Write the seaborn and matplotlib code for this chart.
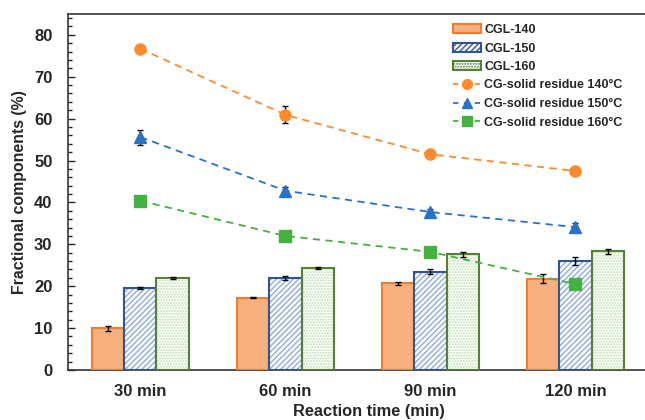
import numpy as np
import pandas as pd
import matplotlib
matplotlib.use("Agg")
import matplotlib.pyplot as plt
from matplotlib.patches import Rectangle, Patch
from matplotlib.lines import Line2D
from matplotlib.ticker import MultipleLocator
import seaborn as sns

times = ["30 min", "60 min", "90 min", "120 min"]
bar_names = ["CGL-140", "CGL-150", "CGL-160"]
cgl140 = [10.0, 17.3, 20.7, 21.8]
cgl150 = [19.5, 22.0, 23.5, 26.0]
cgl160 = [22.0, 24.4, 27.6, 28.3]
cgl140_err = [0.6, 0.2, 0.4, 1.1]
cgl150_err = [0.2, 0.5, 0.7, 0.9]
cgl160_err = [0.3, 0.2, 0.6, 0.6]

line_names = ["CG-solid residue 140°C", "CG-solid residue 150°C", "CG-solid residue 160°C"]
res140 = [76.7, 60.9, 51.5, 47.5]
res150 = [55.6, 42.8, 37.7, 34.1]
res160 = [40.4, 32.0, 28.2, 20.5]
res140_err = [0.3, 2.0, 0.3, 0.3]
res150_err = [1.8, 0.8, 0.8, 1.0]
res160_err = [0.4, 0.4, 0.4, 1.2]

sns.set_style("white")
plt.rcParams["font.family"] = ["Liberation Sans", "DejaVu Sans"]
plt.rcParams["font.weight"] = "bold"
plt.rcParams["hatch.linewidth"] = 1.0

face = ["#F9B07F", "white", "white"]
edge = ["#ED7D31", "#2F5597", "#548235"]
hatch_col = ["#F9B07F", "#8FAADC", "#BFDDAE"]
hatches = [None, "//////", "......"]

df = pd.DataFrame({
    "time": times * 3,
    "sample": np.repeat(bar_names, 4),
    "value": cgl140 + cgl150 + cgl160,
    "err": cgl140_err + cgl150_err + cgl160_err,
})

fig, ax = plt.subplots(figsize=(6.45, 4.2), dpi=100)
fig.subplots_adjust(left=0.105, right=1.0047, bottom=0.119, top=0.967)

sns.barplot(data=df, x="time", y="value", hue="sample", order=times,
            hue_order=bar_names, palette=face, width=0.67, gap=0,
            errorbar=None, legend=False, ax=ax)

errs = [cgl140_err, cgl150_err, cgl160_err]
vals = [cgl140, cgl150, cgl160]
bars = [p for p in ax.patches if isinstance(p, Rectangle)]
for k, p in enumerate(bars[:12]):
    s, i = divmod(k, 4)
    p.set_facecolor(face[s])
    if hatches[s]:
        p.set_hatch(hatches[s])
    p.set_edgecolor(hatch_col[s])
    p.set_linewidth(0)
    ax.add_patch(Rectangle((p.get_x(), 0), p.get_width(), p.get_height(),
                           fill=False, edgecolor=edge[s], linewidth=1.5, zorder=3))
    ax.errorbar(p.get_x() + p.get_width() / 2, vals[s][i], yerr=errs[s][i],
                fmt="none", ecolor="black", elinewidth=1, capsize=2, capthick=1, zorder=4)

line_cols = ["#FF8A2B", "#2A72C9", "#45B140"]
markers = ["o", "^", "s"]
x = np.arange(len(times))
for vals_l, err_l, c, m in zip([res140, res150, res160], [res140_err, res150_err, res160_err],
                               line_cols, markers):
    sns.lineplot(x=x, y=vals_l, color=c, linestyle=(0, (4, 3)), linewidth=1.3, ax=ax, zorder=5)
    ax.errorbar(x, vals_l, yerr=err_l, fmt=m, color=c, markersize=8, ecolor="black",
                elinewidth=1, capsize=2, capthick=1, zorder=6)

ax.set_xlim(-0.5, 3.5)
ax.set_ylim(0, 85)
ax.yaxis.set_major_locator(MultipleLocator(10))
ax.yaxis.set_minor_locator(MultipleLocator(2))
ax.tick_params(axis="y", which="major", direction="in", length=5, width=1, left=True,
               labelsize=12, pad=11)
ax.tick_params(axis="y", which="minor", direction="in", length=3, width=1, left=True)
ax.tick_params(axis="x", length=0, labelsize=12, pad=10)
for lab in ax.get_xticklabels() + ax.get_yticklabels():
    lab.set_fontweight("bold")
for sp in ax.spines.values():
    sp.set_color("#333333")
    sp.set_linewidth(1.2)

ax.set_xlabel("Reaction time (min)", fontsize=11.8, fontweight="bold")
ax.xaxis.set_label_coords((369 - 68) / 580, -0.096)
ax.set_ylabel("Fractional components (%)", fontsize=11.4, fontweight="bold", labelpad=5)

handles = []
for s in range(3):
    handles.append(Patch(facecolor=face[s], edgecolor=edge[s], hatch=hatches[s], linewidth=1.5))
for c, m in zip(line_cols, markers):
    handles.append(Line2D([], [], color=c, linestyle=(0, (3, 3)), linewidth=1.3,
                          marker=m, markersize=7))
fig.legend(handles, bar_names + line_names, loc="upper left",
           bbox_to_anchor=(453 / 645, 1 - 24 / 420), bbox_transform=fig.transFigure,
           frameon=False, prop={"weight": "bold", "size": 9}, handlelength=2.2,
           handletextpad=0.3, labelspacing=0.52, borderpad=0, borderaxespad=0)

fig.savefig("out.png", dpi=100)
